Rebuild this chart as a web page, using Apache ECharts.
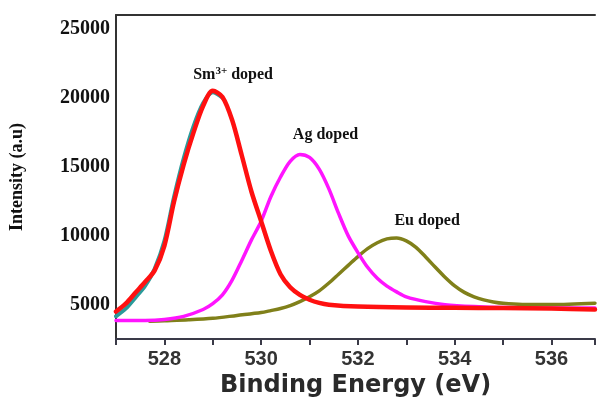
<!DOCTYPE html>
<html>
<head>
<meta charset="utf-8">
<script src="https://cdn.jsdelivr.net/npm/echarts@6/dist/echarts.min.js"></script>
<style>
  html, body { margin: 0; padding: 0; background: #ffffff; }
  #chart { width: 598px; height: 403px; }
</style>
</head>
<body>
<div id="chart"></div>
<script>
// Binding energy (eV) vs intensity (a.u.) for the doped samples
const smDoped = [[527.0,4490],[527.2,5060],[527.4,5850],[527.6,6630],[527.8,7480],[528.0,9260],[528.2,12470],[528.4,15170],[528.6,17450],[528.8,19400],[529.0,20500],[529.2,20050],[529.4,18380],[529.6,15810],[529.8,13180],[530.0,11040],[530.2,8900],[530.4,7200],[530.6,6250],[530.8,5700],[531.0,5350],[531.2,5120],[531.4,4990],[532.0,4850],[533.0,4780],[534.0,4770],[535.0,4740],[536.0,4710],[536.9,4640]];
const agDoped = [[527.0,3850],[527.6,3850],[528.0,3920],[528.4,4140],[528.8,4640],[529.0,5060],[529.2,5700],[529.4,6770],[529.6,8200],[529.8,9690],[530.0,11040],[530.2,12820],[530.4,14250],[530.6,15390],[530.8,15890],[531.0,15670],[531.2,14820],[531.4,13390],[531.6,11610],[531.8,9980],[532.0,8770],[532.2,7700],[532.4,6910],[532.6,6340],[532.8,5920],[533.0,5560],[533.4,5210],[533.8,4990],[534.4,4850],[535.0,4780],[536.9,4740]];
const euDoped = [[527.7,3780],[528.0,3820],[528.5,3890],[529.0,4000],[529.5,4210],[530.0,4420],[530.2,4560],[530.4,4710],[530.6,4920],[530.8,5210],[531.0,5560],[531.2,5990],[531.4,6560],[531.6,7200],[531.8,7840],[532.0,8480],[532.2,9050],[532.4,9480],[532.6,9760],[532.8,9830],[533.0,9620],[533.2,9150],[533.4,8450],[533.6,7700],[533.8,6980],[534.0,6350],[534.2,5880],[534.4,5560],[534.6,5340],[534.8,5190],[535.0,5090],[535.4,5010],[536.0,5000],[536.9,5100]];
// measured spectrum, visible where it peeks out from under the Sm fit
const measured = [[527.0,4150],[527.2,4700],[527.4,5500],[527.6,6350],[527.8,7600],[528.0,9600],[528.2,12800],[528.4,15600],[528.6,17900],[528.8,19600],[529.0,20400],[529.2,20000]];

const xTickLabels = ['528', '530', '532', '534', '536'];
const yTickLabels = ['5000', '10000', '15000', '20000', '25000'];

// peak annotations: [energy, intensity, text]
const peakLabels = [
  [529.42, 21650, '{a|Sm}{s|3+}{a| doped}'],
  [531.33, 17310, '{a|Ag doped}'],
  [533.43, 11040, '{a|Eu doped}']
];

const chart = echarts.init(document.getElementById('chart'));

function lineSeries(name, data, color, width) {
  return {
    name: name, type: 'line', data: data, smooth: 0.3,
    showSymbol: false, symbol: 'none',
    lineStyle: { color: color, width: width, cap: 'round', join: 'round' },
    z: 3
  };
}

chart.setOption({
  backgroundColor: '#ffffff',
  animation: false,
  grid: { left: 116, right: 0, top: 15, bottom: 58 },
  xAxis: [{
    type: 'value', min: 527, max: 536.9, interval: 1,
    name: 'Binding Energy (eV)', nameLocation: 'middle', nameGap: 35,
    nameTextStyle: { fontFamily: 'DejaVu Sans', fontWeight: 'bold', fontSize: 24, color: '#2a2a2a' },
    axisLine: { show: true, lineStyle: { color: '#3a3a48', width: 2 } },
    axisTick: { show: true, inside: false, length: 6, lineStyle: { color: '#3a3a48', width: 2 } },
    axisLabel: {
      margin: 10, fontFamily: 'Liberation Sans', fontWeight: 'bold', fontSize: 20, color: '#333333',
      formatter: v => xTickLabels.includes(String(v)) ? String(v) : ''
    },
    splitLine: { show: false }
  }, {
    type: 'value', position: 'top', min: 527, max: 536.9,
    axisLine: { show: true, lineStyle: { color: '#333333', width: 2 } },
    axisTick: { show: false }, axisLabel: { show: false }, splitLine: { show: false }
  }],
  yAxis: {
    type: 'value', min: 2500, max: 26000, interval: 2500,
    name: 'Intensity (a.u)', nameLocation: 'middle', nameGap: 90, nameRotate: 90,
    nameTextStyle: { fontFamily: 'Liberation Serif', fontWeight: 'bold', fontSize: 18, color: '#111111' },
    axisLine: { show: true, lineStyle: { color: '#333333', width: 2 } },
    axisTick: { show: false },
    axisLabel: {
      margin: 6, fontFamily: 'Liberation Serif', fontWeight: 'bold', fontSize: 20, color: '#111111',
      formatter: v => yTickLabels.includes(String(v)) ? String(v) : ''
    },
    splitLine: { show: false }
  },
  series: [
    Object.assign(lineSeries('Measured', measured, '#2a9a9a', 4), { z: 2 }),
    lineSeries('Eu doped', euDoped, '#80801a', 3.5),
    lineSeries('Ag doped', agDoped, '#ff14ff', 3.5),
    Object.assign(lineSeries('Sm doped', smDoped, '#ff1010', 4.5), { z: 4 }),
    {
      type: 'scatter', symbolSize: 0, silent: true, z: 5,
      itemStyle: { opacity: 1 },
      data: peakLabels.map(p => ({ value: [p[0], p[1]], label: { formatter: p[2] } })),
      label: {
        show: true, position: 'inside', color: '#111111', textBorderWidth: 0, opacity: 1,
        rich: {
          a: { fontFamily: 'Liberation Serif', fontWeight: 'bold', fontSize: 16, color: '#111111', textBorderWidth: 0 },
          s: { fontFamily: 'Liberation Serif', fontWeight: 'bold', fontSize: 11, color: '#111111', textBorderWidth: 0, verticalAlign: 'top', padding: [0, 0, 8, 0] }
        }
      }
    }
  ]
});
</script>
</body>
</html>
